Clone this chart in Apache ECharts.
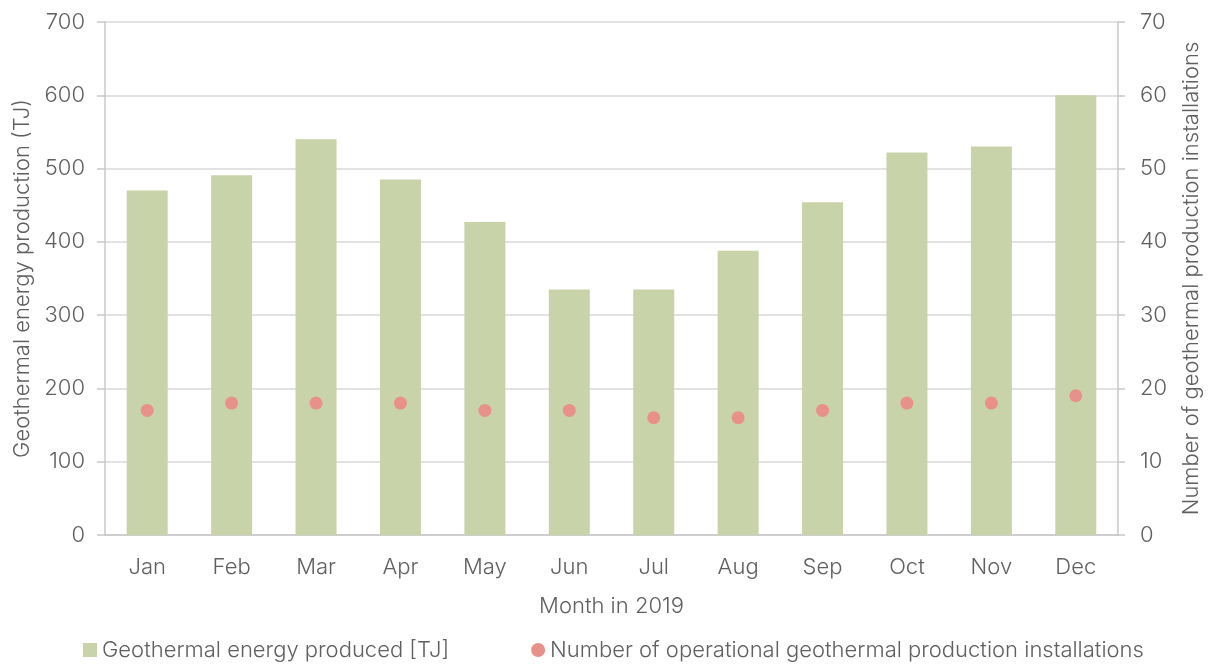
<!DOCTYPE html>
<html>
<head>
<meta charset="utf-8">
<script src="https://cdn.jsdelivr.net/npm/echarts@6/dist/echarts.min.js"></script>
<style>
  html, body { margin: 0; padding: 0; background: #fff; }
  #chart { width: 1208px; height: 666px; }
</style>
</head>
<body>
<div id="chart"></div>
<script>
// data
var months = ['Jan', 'Feb', 'Mar', 'Apr', 'May', 'Jun', 'Jul', 'Aug', 'Sep', 'Oct', 'Nov', 'Dec'];
var energyTJ = [470, 491, 540, 485, 427, 335, 335, 388, 454, 522, 530, 600];
var installations = [17, 18, 18, 18, 17, 17, 16, 16, 17, 18, 18, 19];

var textColor = '#5f5f5f';
var lineColor = '#c8c8c8';
var fontFamily = 'Inter, "Open Sans", sans-serif';
var fontSize = 22;

var chart = echarts.init(document.getElementById('chart'));
var option = {
    animation: false,
    textStyle: {fontFamily: fontFamily, fontWeight: 300, color: textColor},
    grid: {left: 105, right: 90, top: 22, bottom: 131, outerBoundsMode: 'none'},
    legend: {
        bottom: 0,
        left: 78,
        itemGap: 82,
        itemWidth: 14,
        itemHeight: 14,
        textStyle: {fontSize: fontSize, color: textColor, fontWeight: 300, fontFamily: fontFamily},
        data: [
            {name: 'Geothermal energy produced [TJ]', icon: 'rect'},
            {name: 'Number of operational geothermal production installations', icon: 'circle'}
        ]
    },
    xAxis: {
        type: 'category',
        data: months,
        name: 'Month in 2019',
        nameLocation: 'middle',
        nameGap: 60,
        nameTextStyle: {fontSize: fontSize, color: textColor, fontWeight: 300},
        axisLine: {lineStyle: {color: lineColor, width: 1.5}},
        axisTick: {show: false},
        axisLabel: {fontSize: fontSize, color: textColor, margin: 21}
    },
    yAxis: [
        {
            type: 'value',
            min: 0,
            max: 700,
            interval: 100,
            name: 'Geothermal energy production (TJ)',
            nameLocation: 'middle',
            nameGap: 70,
            nameTextStyle: {fontSize: fontSize, color: textColor, fontWeight: 300},
            axisLine: {show: true, lineStyle: {color: lineColor, width: 1.5}},
            axisTick: {show: true, length: 8, lineStyle: {color: lineColor, width: 1.5}},
            axisLabel: {fontSize: fontSize, color: textColor, margin: 20},
            splitLine: {lineStyle: {color: '#d9d9d9', width: 1.5}}
        },
        {
            type: 'value',
            min: 0,
            max: 70,
            interval: 10,
            name: 'Number of geothermal production installations',
            nameLocation: 'middle',
            nameGap: 62,
            nameRotate: 90,
            nameTextStyle: {fontSize: fontSize, color: textColor, fontWeight: 300},
            axisLine: {show: true, lineStyle: {color: lineColor, width: 1.5}},
            axisTick: {show: true, length: 7, lineStyle: {color: lineColor, width: 1.5}},
            axisLabel: {fontSize: fontSize, color: textColor, margin: 22},
            splitLine: {show: false}
        }
    ],
    series: [
        {
            name: 'Geothermal energy produced [TJ]',
            type: 'bar',
            data: energyTJ,
            barWidth: 41,
            itemStyle: {color: '#c9d3a9'}
        },
        {
            name: 'Number of operational geothermal production installations',
            type: 'scatter',
            yAxisIndex: 1,
            data: installations,
            symbol: 'circle',
            symbolSize: 13,
            itemStyle: {color: '#e8918a', opacity: 1}
        }
    ]
};
chart.setOption(option);
</script>
</body>
</html>
